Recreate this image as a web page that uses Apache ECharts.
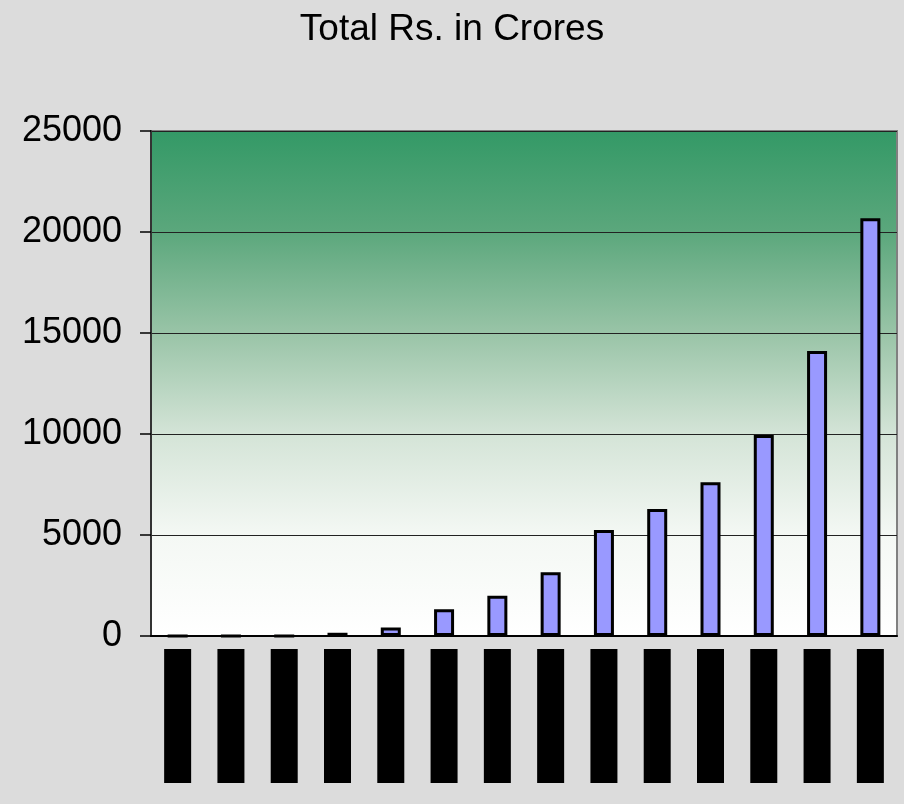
<!DOCTYPE html>
<html>
<head>
<meta charset="utf-8">
<script src="https://cdn.jsdelivr.net/npm/echarts@6/dist/echarts.min.js"></script>
<style>
  html, body { margin: 0; padding: 0; background: #dcdcdc; }
  #chart { width: 904px; height: 804px; }
</style>
</head>
<body>
<div id="chart"></div>
<script>
// labels under the bars are unreadable in the source (drawn as black blocks)
const years = ['1990-91', '1991-92', '1992-93', '1993-94', '1994-95', '1995-96', '1996-97',
  '1997-98', '1998-99', '1999-00', '2000-01', '2001-02', '2002-03', '2003-04'];
const totals = [0, 0, 0, 160, 420, 1320, 1990, 3150, 5250, 6290, 7610, 9950, 14110, 20680];
const yTicks = [0, 5000, 10000, 15000, 20000, 25000];

const myChart = echarts.init(document.getElementById('chart'));

const plotFill = new echarts.graphic.LinearGradient(0, 0, 0, 1, [
  { offset: 0, color: '#339966' },
  { offset: 0.2, color: '#5ba77c' },
  { offset: 0.4, color: '#99c4a7' },
  { offset: 0.6, color: '#d4e4d7' },
  { offset: 0.8, color: '#f4f8f4' },
  { offset: 1, color: '#ffffff' }
]);

const option = {
  backgroundColor: '#dcdcdc',
  animation: false,
  title: {
    text: 'Total Rs. in Crores',
    left: 'center',
    top: 6,
    textStyle: {
      color: '#000',
      fontFamily: 'Liberation Sans, Arial, sans-serif',
      fontSize: 37,
      fontWeight: 'normal'
    }
  },
  grid: {
    left: 151,
    right: 7,
    top: 131,
    bottom: 168,
    show: true,
    backgroundColor: plotFill,
    borderColor: '#808080',
    borderWidth: 2
  },
  xAxis: {
    type: 'category',
    data: years,
    axisLine: { lineStyle: { color: '#000', width: 2 } },
    axisTick: { length: 6, lineStyle: { color: '#000', width: 1 } },
    axisLabel: {
      rotate: 90,
      margin: 13,
      interval: 0,
      formatter: function (v) { return '{b|' + v + '}'; },
      rich: {
        b: {
          color: '#000',
          backgroundColor: '#000',
          width: 134,
          height: 27,
          lineHeight: 27,
          fontSize: 16,
          align: 'center'
        }
      }
    }
  },
  yAxis: {
    type: 'value',
    min: yTicks[0],
    max: yTicks[yTicks.length - 1],
    interval: 5000,
    axisLine: { show: true, lineStyle: { color: '#333', width: 2 } },
    axisTick: { show: true, inside: false, length: 11, lineStyle: { color: '#000', width: 1.5 } },
    axisLabel: {
      margin: 29,
      color: '#000',
      fontFamily: 'Liberation Sans, Arial, sans-serif',
      fontSize: 36,
      formatter: function (v) { return String(v); }
    },
    splitLine: { lineStyle: { color: '#222', width: 1 } }
  },
  series: [
    {
      name: 'Total',
      type: 'bar',
      data: totals,
      barWidth: 20,
      itemStyle: {
        color: '#9999ff',
        borderColor: '#000',
        borderWidth: 3
      }
    }
  ]
};

myChart.setOption(option);
</script>
</body>
</html>
